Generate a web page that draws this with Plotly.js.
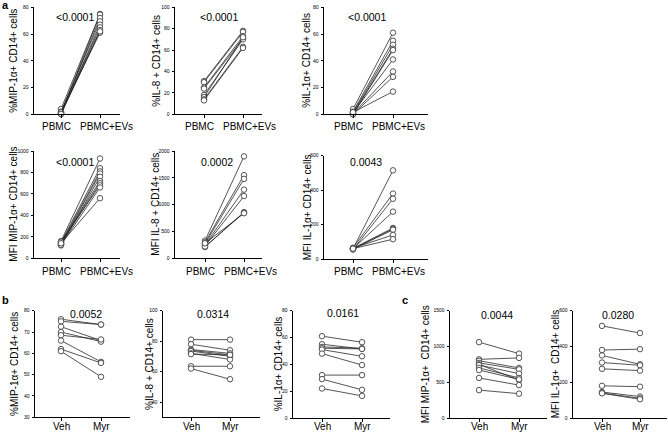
<!DOCTYPE html>
<html>
<head>
<meta charset="utf-8">
<script src="https://cdn.plot.ly/plotly-3.0.1.min.js"></script>
<style>html,body{margin:0;padding:0;background:#fff;}#chart{width:668px;height:434px;}</style>
</head>
<body>
<div id="chart"></div>
<script>
// ---------- data ----------
const catsA = ["PBMC", "PBMC+EVs"];
const catsBC = ["Veh", "Myr"];

// panel a, row 1 (% positive)
const mipPctPBMC = [4, 1, 0.5, 2, 0, 1, 0.5, 1.5, 0.3];
const mipPctEVs  = [75, 74.5, 72, 69.5, 67, 65, 63, 61, 62];
const il8PctPBMC = [31, 30, 25, 24, 18, 16, 14, 13];
const il8PctEVs  = [78, 77, 73, 71, 70, 72, 63, 62];
const il1PctPBMC = [4, 2, 1, 0.5, 0, 1, 0.5, 0, 1.5];
const il1PctEVs  = [61, 55, 52, 49, 48, 41, 32, 28, 17];

// panel a, row 2 (MFI)
const mipMfiPBMC = [160, 150, 140, 130, 120, 145, 135, 155, 125, 140];
const mipMfiEVs  = [930, 840, 810, 790, 760, 720, 700, 680, 660, 560];
const il8MfiPBMC = [330, 300, 270, 250, 230, 210, 220, 280];
const il8MfiEVs  = [1900, 1550, 1480, 1280, 1160, 860, 850, 840];
const il1MfiPBMC = [60, 65, 55, 60, 62, 58, 57, 63, 60];
const il1MfiEVs  = [515, 380, 350, 275, 180, 175, 170, 140, 115];

// panel b (% positive, Veh vs Myr)
const bMipVeh = [76, 75, 72.5, 70, 68.5, 66, 62, 61];
const bMipMyr = [73.5, 73.5, 66, 65.5, 66.5, 56, 55.5, 49];
const bIl8Veh = [81, 78, 74.5, 74, 73.5, 72, 71.5, 63.5, 62];
const bIl8Myr = [81, 74, 72, 71, 70, 68, 71, 63.5, 55];
const bIl1Veh = [61, 55, 53, 52, 51, 48, 32, 29, 22];
const bIl1Myr = [56.5, 51.5, 52, 51.5, 46, 39.5, 32, 21, 16.5];

// panel c (MFI, Veh vs Myr)
const cMipVeh = [1060, 820, 800, 770, 750, 740, 700, 670, 560, 390];
const cMipMyr = [900, 840, 700, 680, 530, 620, 560, 540, 460, 340];
const cIl1Veh = [515, 380, 350, 310, 275, 180, 145, 140, 138];
const cIl1Myr = [475, 385, 300, 295, 265, 175, 120, 110, 105];

// p-values and axis titles
const pValues = ["<0.0001", "<0.0001", "<0.0001", "<0.0001", "0.0002", "0.0043",
                 "0.0052", "0.0314", "0.0161", "0.0044", "0.0280"];
const yTitles = ["%MIP-1α+ CD14+ cells", "%IL-8 + CD14+ cells", "%IL-1α+ CD14+ cells",
                 "MFI MIP-1α+ CD14+ cells", "MFI IL-8 + CD14+ cells", "MFI IL-1α+ CD14+ cells",
                 "%MIP-1α+ CD14+ cells", "%IL-8 + CD14+ cells", "%IL-1α+ CD14+ cells",
                 "MFI MIP-1α+  CD14+ cells", "MFI IL-1α+  CD14+ cells"];
const yRanges = [[0, 80], [0, 100], [0, 80], [0, 1000], [0, 2000], [0, 600],
                 [30, 80], [30, 100], [0, 80], [0, 1500], [0, 600]];
const yTicks = [[0, 20, 40, 60, 80], [0, 20, 40, 60, 80, 100], [0, 20, 40, 60, 80],
                [0, 200, 400, 600, 800, 1000], [0, 500, 1000, 1500, 2000], [0, 200, 400, 600],
                [30, 40, 50, 60, 70, 80], [40, 60, 80, 100], [0, 20, 40, 60, 80],
                [0, 500, 1000, 1500], [0, 200, 400, 600]];

const series = [
  [mipPctPBMC, mipPctEVs, catsA], [il8PctPBMC, il8PctEVs, catsA], [il1PctPBMC, il1PctEVs, catsA],
  [mipMfiPBMC, mipMfiEVs, catsA], [il8MfiPBMC, il8MfiEVs, catsA], [il1MfiPBMC, il1MfiEVs, catsA],
  [bMipVeh, bMipMyr, catsBC], [bIl8Veh, bIl8Myr, catsBC], [bIl1Veh, bIl1Myr, catsBC],
  [cMipVeh, cMipMyr, catsBC], [cIl1Veh, cIl1Myr, catsBC]
];

// ---------- layout geometry (pixels) ----------
const W = 668, H = 434;
// yaxis x, axis end x, category0 x, category1 x, top y, bottom y, ytitle x, p-value x, p-value y,
// category label y, label shift left, label shift right
const geo = [
  [34, 120, 61, 100, 7.3, 114.3, 14, 75, 17, 126.7, -4.5, 6.5],
  [175, 262, 204, 243, 7.3, 114.3, 157, 219, 17, 126.7, -4.5, 6.5],
  [324, 428, 353, 393, 7.3, 114.3, 307, 367, 17, 126.7, -5, 5.5],
  [34, 120, 61, 100, 151, 258.3, 14, 75, 162, 271.7, -4.5, 6.5],
  [175, 262, 205, 244, 151, 258.3, 156, 217, 162, 271.7, -4.5, 6.5],
  [324, 428, 353, 393, 155.7, 259, 307, 366, 162, 271.7, -5, 5.5],
  [35, 130, 61, 101, 310.7, 417.3, 14, 86, 314, 426.5, 0, 0],
  [163, 260, 191, 230, 310.7, 417.3, 149, 213, 314, 426.5, 0, 0],
  [293, 390, 322, 362, 310.7, 418, 278, 343, 313, 426.5, 0, 0],
  [450, 547, 479, 519, 310.7, 418, 425, 497, 315, 426.5, 0, 0],
  [573, 667, 602, 640, 310.7, 418, 555, 618, 315, 426.5, 0, 0]
];

const FONT = "Liberation Sans, Arial, sans-serif";
const INK = "#2a2a2a";
const traces = [];
const layout = {
  width: W, height: H,
  margin: {l: 0, r: 0, t: 0, b: 0},
  paper_bgcolor: "#fff", plot_bgcolor: "rgba(0,0,0,0)",
  showlegend: false,
  font: {family: FONT, color: "#000"},
  annotations: []
};

series.forEach((s, i) => {
  const g = geo[i];
  const n = i + 1;
  const xa = n === 1 ? "x" : "x" + n;
  const ya = n === 1 ? "y" : "y" + n;
  const pre = s[0], post = s[1], cats = s[2];
  for (let k = 0; k < pre.length; k++) {
    traces.push({
      type: "scatter", mode: "lines+markers",
      x: [0, 1], y: [pre[k], post[k]],
      xaxis: xa, yaxis: ya, cliponaxis: false,
      line: {color: INK, width: 0.8},
      marker: {symbol: "circle", size: 5.5, color: "#fff", line: {color: "#444", width: 0.9}},
      hoverinfo: "skip"
    });
  }
  const unit = g[3] - g[2];
  layout["xaxis" + (n === 1 ? "" : n)] = {
    domain: [g[0] / W, g[1] / W],
    range: [(g[0] - g[2]) / unit, (g[1] - g[2]) / unit],
    anchor: ya, showgrid: false, zeroline: false,
    showline: true, linecolor: "#000", linewidth: 1,
    tickvals: [0, 1], showticklabels: false,
    ticks: "outside", ticklen: 3, tickwidth: 1, tickcolor: "#000",
    fixedrange: true
  };
  layout["yaxis" + (n === 1 ? "" : n)] = {
    domain: [1 - g[5] / H, 1 - g[4] / H],
    range: yRanges[i], anchor: xa, showgrid: false, zeroline: false,
    showline: true, linecolor: "#000", linewidth: 1,
    tickvals: yTicks[i], ticks: "outside", ticklen: 2.5, tickwidth: 1, tickcolor: "#000",
    tickfont: {family: FONT, size: 5, color: "#000"}, ticklabelstandoff: 1,
    fixedrange: true
  };
  // category labels (at the category positions on the x axis)
  cats.forEach((c, j) => {
    layout.annotations.push({
      xref: xa, yref: "paper", x: j, y: 1 - g[9] / H,
      xshift: j === 0 ? g[10] : g[11],
      text: c, showarrow: false, xanchor: "center", yanchor: "middle",
      font: {family: FONT, size: 10, color: "#000"}
    });
  });
  layout.annotations.push({
    xref: "paper", yref: "paper", x: g[6] / W, y: 1 - ((g[4] + g[5]) / 2) / H,
    text: yTitles[i], textangle: -90, showarrow: false,
    xanchor: "center", yanchor: "middle",
    font: {family: FONT, size: 10, color: "#000"}
  });
  layout.annotations.push({
    xref: "paper", yref: "paper", x: g[7] / W, y: 1 - g[8] / H,
    text: pValues[i], showarrow: false, xanchor: "center", yanchor: "middle",
    font: {family: FONT, size: 10.5, color: "#000"}
  });
});

// panel letters
[["a", 5, 5], ["b", 5, 300], ["c", 405, 300]].forEach(p => {
  layout.annotations.push({
    xref: "paper", yref: "paper", x: p[1] / W, y: 1 - p[2] / H,
    text: "<b>" + p[0] + "</b>", showarrow: false, xanchor: "center", yanchor: "middle",
    font: {family: FONT, size: 11, color: "#000"}
  });
});

Plotly.newPlot("chart", traces, layout, {staticPlot: true, displayModeBar: false});
</script>
</body>
</html>
